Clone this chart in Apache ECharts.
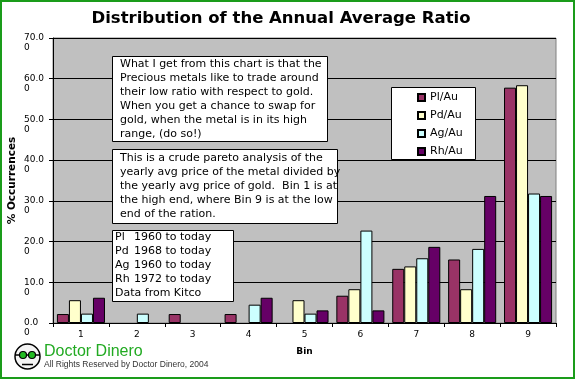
<!DOCTYPE html>
<html><head><meta charset="utf-8">
<script src="https://cdn.jsdelivr.net/npm/echarts@6/dist/echarts.min.js"></script>
<style>html,body{margin:0;padding:0;background:#fff}#c{width:576px;height:380px}</style>
</head><body><div id="c"></div>
<script>
const bins = ['1','2','3','4','5','6','7','8','9'];
const seriesNames = ['Pl/Au','Pd/Au','Ag/Au','Rh/Au'];
const plAu = [2.2, 0, 2.2, 2.2, 0, 6.7, 13.3, 15.6, 57.8];
const pdAu = [5.6, 0, 0, 0, 5.6, 8.3, 13.9, 8.3, 58.4];
const agAu = [2.3, 2.3, 0, 4.5, 2.3, 22.7, 15.9, 18.2, 31.8];
const rhAu = [6.2, 0, 0, 6.2, 3.1, 3.1, 18.7, 31.2, 31.2];
const yTicks = [0,10,20,30,40,50,60,70];
const colors = ['#993366','#FFFFCC','#CCFFFF','#660066'];
const note1 = 'What I get from this chart is that the\nPrecious metals like to trade around\ntheir low ratio with respect to gold.\nWhen you get a chance to swap for\ngold, when the metal is in its high\nrange, (do so!)';
const note2 = 'This is a crude pareto analysis of the\nyearly avg price of the metal divided by\nthe yearly avg price of gold.  Bin 1 is at\nthe high end, where Bin 9 is at the low\nend of the ration.';
const note3Labels = ['Pl','Pd','Ag','Rh'];
const note3Years = ['1960 to today','1968 to today','1960 to today','1972 to today'];
const note3Foot = 'Data from Kitco';

const allData = [plAu, pdAu, agAu, rhAu];
const F = 'DejaVu Sans, Verdana, sans-serif';
const chart = echarts.init(document.getElementById('c'));
const note3 = note3Labels.map((l,i)=>'{a|'+l+'}'+note3Years[i]).join('\n') + '\n' + note3Foot;

chart.setOption({
  animation:false,
  grid:{left:53, top:38, right:20, bottom:57, show:true, backgroundColor:'#C0C0C0', borderColor:'#808080', borderWidth:1,
    outerBoundsMode:'none', containLabel:false},
  legend:{orient:'vertical', left:417, top:92, padding:0, itemWidth:7, itemHeight:7, itemGap:7, icon:'rect', z:12,
    data:seriesNames, textStyle:{fontFamily:F, fontSize:11, color:'#000'}},
  xAxis:{type:'category', data:bins,
    axisLine:{lineStyle:{color:'#000'}},
    axisTick:{show:true, length:4, lineStyle:{color:'#000'}},
    axisLabel:{fontFamily:F, fontSize:9, color:'#000', margin:7},
    name:'Bin', nameLocation:'middle', nameGap:24, nameMoveOverlap:false,
    nameTextStyle:{fontFamily:F, fontSize:9, fontWeight:'bold', color:'#000'}},
  yAxis:{type:'value', min:0, max:70, interval:10,
    axisLine:{show:true, lineStyle:{color:'#000'}},
    axisTick:{show:true, length:4, lineStyle:{color:'#000'}},
    splitLine:{lineStyle:{color:'#000'}},
    axisLabel:{fontFamily:F, fontSize:9, color:'#000', align:'left', margin:29, lineHeight:10,
      formatter:v=> yTicks.includes(v) ? '\n'+v.toFixed(1)+'\n0' : ''},
    name:'% Occurrences', nameLocation:'middle', nameGap:35, nameMoveOverlap:false,
    nameTextStyle:{fontFamily:F, fontSize:10.5, fontWeight:'bold', color:'#000'}},
  series: seriesNames.map((n,i)=>({
    name:n, type:'bar', barGap:0, barCategoryGap:'14%',
    itemStyle:{color:colors[i], borderColor:'#000', borderWidth:1},
    data: allData[i].map(v=> v===0 ? '-' : v)
  })),
  graphic:[
    {type:'rect', z:100, shape:{x:1, y:1, width:573, height:377}, style:{fill:'none', stroke:'#1a9c1a', lineWidth:2}},
    {type:'text', z:100, x:281, y:10, style:{text:'Distribution of the Annual Average Ratio', fontFamily:F, fontSize:16.5, fontWeight:'bold', fill:'#000', align:'center', verticalAlign:'top'}},
    {type:'rect', z:10, shape:{x:112.5, y:56.5, width:215, height:85}, style:{fill:'#fff', stroke:'#000', lineWidth:1}},
    {type:'text', z:11, x:120, y:57, style:{text:note1, fontFamily:F, fontSize:11, lineHeight:14, fill:'#000', verticalAlign:'top'}},
    {type:'rect', z:10, shape:{x:112.5, y:149.5, width:225, height:74}, style:{fill:'#fff', stroke:'#000', lineWidth:1}},
    {type:'text', z:11, x:120, y:151, style:{text:note2, fontFamily:F, fontSize:11, lineHeight:14, fill:'#000', verticalAlign:'top'}},
    {type:'rect', z:10, shape:{x:112.5, y:230.5, width:121, height:71}, style:{fill:'#fff', stroke:'#000', lineWidth:1}},
    {type:'text', z:11, x:115, y:230, style:{text:note3, fontFamily:F, fontSize:11, lineHeight:14, fill:'#000', verticalAlign:'top',
      rich:{a:{width:19, fontFamily:F, fontSize:11, lineHeight:14}}}},
    {type:'rect', z:10, shape:{x:391.5, y:87.5, width:84, height:72}, style:{fill:'#fff', stroke:'#000', lineWidth:1}},
    {type:'circle', z:10, shape:{cx:27.5, cy:356.5, r:12.5}, style:{fill:'#f4f4f4', stroke:'#000', lineWidth:1.5}},
    {type:'line', z:11, shape:{x1:15, y1:355, x2:40, y2:355}, style:{stroke:'#000', lineWidth:1.5}},
    {type:'circle', z:12, shape:{cx:23, cy:355, r:3.5}, style:{fill:'#22bb22', stroke:'#000', lineWidth:1.2}},
    {type:'circle', z:12, shape:{cx:32, cy:355, r:3.5}, style:{fill:'#22bb22', stroke:'#000', lineWidth:1.2}},
    {type:'line', z:11, shape:{x1:22, y1:364.5, x2:33, y2:364.5}, style:{stroke:'#000', lineWidth:1.5}},
    {type:'text', z:11, x:44, y:344, style:{text:'Doctor Dinero', fontFamily:'Liberation Sans, Arial, sans-serif', fontSize:16, fill:'#22aa22', verticalAlign:'top'}},
    {type:'text', z:11, x:44, y:360, style:{text:'All Rights Reserved by Doctor Dinero, 2004', fontFamily:'Liberation Sans, Arial, sans-serif', fontSize:8.5, fill:'#333', verticalAlign:'top'}}
  ]
});
</script></body></html>
